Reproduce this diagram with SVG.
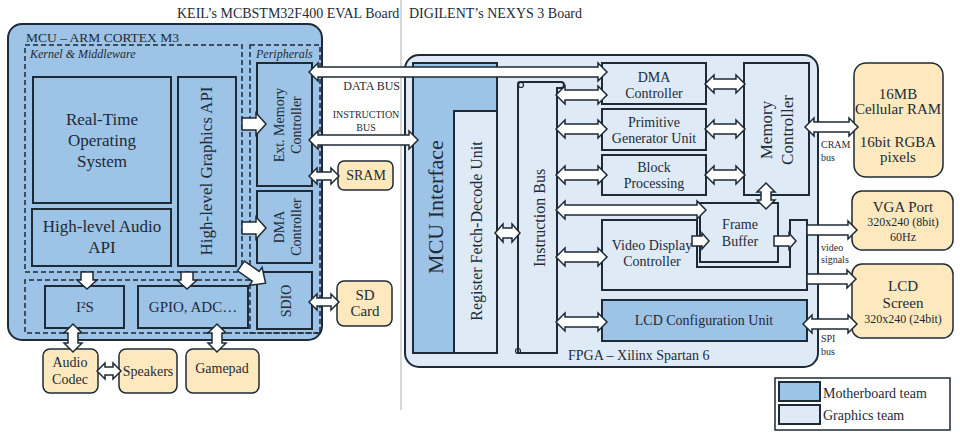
<svg xmlns="http://www.w3.org/2000/svg" width="960" height="435" viewBox="0 0 960 435" font-family="'Liberation Serif', 'DejaVu Serif', serif">
<style>
text{font-family:'Liberation Serif','DejaVu Serif',serif;fill:#1e2a36}
.c{text-anchor:middle}
.db{fill:#9dc3e6;stroke:#1e2a36;stroke-width:2}
.lb{fill:#deebf7;stroke:#1e2a36;stroke-width:2}
.yb{fill:#fde9bd;stroke:#1e2a36;stroke-width:1.5}
.dash{fill:none;stroke:#1e2a36;stroke-width:1.5;stroke-dasharray:5 3}
.ar{fill:#fff;stroke:#1e2a36;stroke-width:1.5}
.s10{font-size:10px}.s12{font-size:12px}.s14{font-size:14px}.s15{font-size:15px}.s16{font-size:16px}.s17{font-size:17px}
</style>
<rect width="960" height="435" fill="#fff"/>
<line x1="401" y1="0" x2="401" y2="410" stroke="#b0b0b0" stroke-width="1"/>
<text x="177" y="18" class="s14">KEIL’s MCBSTM32F400 EVAL Board</text>
<text x="409" y="18" class="s14">DIGILENT’s NEXYS 3 Board</text>

<g id="mcu">
<rect x="8" y="24" width="314" height="316" rx="14" class="db"/>
<text x="26" y="42" font-size="13.5">MCU – ARM CORTEX M3</text>
</g>
<g id="kernel">
<rect x="25" y="45" width="217" height="227" class="dash"/>
<text x="30" y="58" font-size="12" font-style="italic">Kernel &amp; Middleware</text>
</g>
<g id="peripherals">
<rect x="250" y="45" width="70" height="288" class="dash"/>
<text x="256" y="58" font-size="12" font-style="italic">Peripherals</text>
</g>
<g id="io-region"><path d="M250,280 H25 V333 H320" class="dash"/></g>
<g id="rtos">
<rect x="33" y="77" width="138" height="126" class="db"/>
<text x="102" y="125" class="c s17">Real-Time</text>
<text x="102" y="146" class="c s17">Operating</text>
<text x="102" y="167" class="c s17">System</text>
</g>
<g id="audio-api">
<rect x="32" y="209" width="139" height="57" class="db"/>
<text x="102" y="232" class="c s17">High-level Audio</text>
<text x="102" y="253" class="c s17">API</text>
</g>
<g id="graphics-api">
<rect x="178" y="77" width="58" height="189" class="db"/>
<text transform="translate(212,171) rotate(-90)" class="c s17">High-level Graphics API</text>
</g>
<g id="ext-mem">
<rect x="257" y="63" width="55" height="123" class="db"/>
<text transform="translate(284,125) rotate(-90)" class="c s14">Ext. Memory</text>
<text transform="translate(301,125) rotate(-90)" class="c s14">Controller</text>
</g>
<g id="dma-left">
<rect x="257" y="191" width="55" height="72" class="db"/>
<text transform="translate(284,227) rotate(-90)" class="c s14">DMA</text>
<text transform="translate(301,227) rotate(-90)" class="c s14">Controller</text>
</g>
<g id="sdio">
<rect x="257" y="272" width="55" height="57" class="db"/>
<text transform="translate(291,301) rotate(-90)" class="c s14">SDIO</text>
</g>
<g id="i2s">
<rect x="45" y="286" width="79" height="42" class="db"/>
<text x="85" y="312" class="c s15">I²S</text>
</g>
<g id="gpio">
<rect x="138" y="286" width="110" height="42" class="db"/>
<text x="193" y="312" class="c s15">GPIO, ADC…</text>
</g>
<g id="sram">
<rect x="338" y="161" width="55" height="29" rx="6" class="yb"/>
<text x="366" y="180" class="c s14">SRAM</text>
</g>
<g id="sdcard">
<rect x="337" y="281" width="55" height="45" rx="7" class="yb"/>
<text x="365" y="300" class="c s15">SD</text>
<text x="365" y="316" class="c s15">Card</text>
</g>
<g id="codec">
<rect x="43" y="349" width="55" height="44" rx="7" class="yb"/>
<text x="70" y="367" class="c s14">Audio</text>
<text x="70" y="384" class="c s14">Codec</text>
</g>
<g id="speakers">
<rect x="119" y="349" width="58" height="44" rx="7" class="yb"/>
<text x="148" y="376" class="c s14">Speakers</text>
</g>
<g id="gamepad">
<rect x="186" y="349" width="73" height="44" rx="7" class="yb"/>
<text x="222" y="373" class="c s14">Gamepad</text>
</g>

<g id="fpga">
<rect x="405" y="55" width="413" height="312" rx="14" class="lb"/>
<text x="568" y="360" class="s14">FPGA – Xilinx Spartan 6</text>
</g>
<g id="mcu-interface">
<rect x="413" y="63" width="84" height="290" class="db"/>
<text transform="translate(443,207) rotate(-90)" class="c" font-size="22">MCU Interface</text>
</g>
<g id="reg-fetch">
<rect x="454" y="111" width="43" height="242" class="lb"/>
<text transform="translate(482,231) rotate(-90)" class="c s16">Register Fetch-Decode Unit</text>
</g>
<g id="instruction-bus">
<path d="M518,353 V84 Q518,82 520,82 H561 Q564,82 564,85 Q564,88 561,88 H557 V353 Z" class="lb"/>
<circle cx="521" cy="85" r="2.5" fill="none" stroke="#1e2a36" stroke-width="1.2"/>
<circle cx="518" cy="351" r="2.5" fill="none" stroke="#1e2a36" stroke-width="1.2"/>
<text transform="translate(545,218) rotate(-90)" class="c s16">Instruction Bus</text>
</g>
<g id="dma-fpga">
<rect x="602" y="63" width="104" height="41" class="lb"/>
<text x="654" y="82" class="c s14">DMA</text>
<text x="654" y="98" class="c s14">Controller</text>
</g>
<g id="primitive">
<rect x="602" y="109" width="104" height="41" class="lb"/>
<text x="654" y="127" class="c s14">Primitive</text>
<text x="654" y="143" class="c s14">Generator Unit</text>
</g>
<g id="block">
<rect x="602" y="155" width="104" height="40" class="lb"/>
<text x="654" y="172" class="c s14">Block</text>
<text x="654" y="188" class="c s14">Processing</text>
</g>
<g id="memory-controller">
<rect x="744" y="63" width="65" height="132" class="lb"/>
<text transform="translate(772,130) rotate(-90)" class="c s17">Memory</text>
<text transform="translate(793,130) rotate(-90)" class="c s17">Controller</text>
</g>
<g id="frame-buffer">
<rect x="700" y="203" width="78" height="59" class="lb"/>
<text x="740" y="229" class="c s14">Frame</text>
<text x="740" y="246" class="c s14">Buffer</text>
</g>
<g id="video-display">
<path d="M602,220 H697 V267 H790 V220 H807 V290 H602 Z" class="lb"/>
<text x="652" y="250" class="c s14">Video Display</text>
<text x="652" y="266" class="c s14">Controller</text>
</g>
<g id="lcd-config">
<rect x="602" y="300" width="205" height="41" class="db"/>
<text x="704" y="325" class="c s14">LCD Configuration Unit</text>
</g>
<g id="cram">
<rect x="854" y="63" width="89" height="114" rx="12" class="yb"/>
<text x="898" y="99" class="c s15">16MB</text>
<text x="898" y="114" class="c s15">Cellular RAM</text>
<text x="898" y="147" class="c s15">16bit RGBA</text>
<text x="898" y="162" class="c s15">pixels</text>
</g>
<g id="vga">
<rect x="852" y="191" width="101" height="59" rx="10" class="yb"/>
<text x="903" y="212" class="c s15">VGA Port</text>
<text x="903" y="226" class="c s12">320x240 (8bit)</text>
<text x="903" y="241" class="c s12">60Hz</text>
</g>
<g id="lcd-screen">
<rect x="852" y="264" width="101" height="74" rx="10" class="yb"/>
<text x="903" y="291" class="c s15">LCD</text>
<text x="903" y="308" class="c s15">Screen</text>
<text x="903" y="323" class="c s12">320x240 (24bit)</text>
</g>
<g id="legend">
<rect x="775" y="378" width="175" height="52" fill="#fff" stroke="#1e2a36" stroke-width="1.5"/>
<rect x="779" y="382" width="41" height="19" class="db"/>
<rect x="779" y="405" width="41" height="19" class="lb"/>
<text x="823" y="398" class="s14">Motherboard team</text>
<text x="823" y="420" class="s14">Graphics team</text>
</g>

<g id="connectors">
<path class="ar" d="M309 72 L318 63 V67 H598 V63 L607 72 L598 81 V77 H318 V81 Z"/>
<path class="ar" d="M309 140 L318 131 V135 H409 V131 L418 140 L409 149 V145 H318 V149 Z"/>
<path class="ar" d="M309 176 L317 168 V172 H331 V168 L339 176 L331 184 V180 H317 V184 Z"/>
<path class="ar" d="M309 302 L317 294 V298 H331 V294 L339 302 L331 310 V306 H317 V310 Z"/>
<path class="ar" d="M242 118 H256 V113 L266 124 L256 135 V130 H242 Z"/>
<path class="ar" d="M242 222 H256 V217 L266 228 L256 239 V234 H242 Z"/>
<path class="ar" transform="translate(241,266) rotate(35)" d="M0 -6 H18 V-11 L30 0 L18 11 V6 H0 Z"/>
<path class="ar" d="M81 272 V280 H77 L87 289 L97 280 H93 V272 Z"/>
<path class="ar" d="M181 272 V280 H177 L187 289 L197 280 H193 V272 Z"/>
<path class="ar" d="M73 324 L82 333 H78 V343 H82 L73 352 L64 343 H68 V333 H64 Z"/>
<path class="ar" d="M217 324 L226 333 H222 V343 H226 L217 352 L208 343 H212 V333 H208 Z"/>
<path class="ar" d="M97 371 L105 363 V367 H113 V363 L121 371 L113 379 V375 H105 V379 Z"/>
<path class="ar" d="M495 233 L503 224 V228 H512 V224 L520 233 L512 242 V238 H503 V242 Z"/>
<path class="ar" d="M556 95 L565 86 V90 H598 V86 L607 95 L598 104 V100 H565 V104 Z"/>
<path class="ar" d="M556 129 L565 120 V124 H598 V120 L607 129 L598 138 V134 H565 V138 Z"/>
<path class="ar" d="M556 175 L565 166 V170 H598 V166 L607 175 L598 184 V180 H565 V184 Z"/>
<path class="ar" d="M556 210 L565 201 V205 H697 V201 L706 210 L697 219 V215 H565 V219 Z"/>
<path class="ar" d="M556 257 L565 248 V252 H598 V248 L607 257 L598 266 V262 H565 V266 Z"/>
<path class="ar" d="M556 322 L565 313 V317 H598 V313 L607 322 L598 331 V327 H565 V331 Z"/>
<path class="ar" d="M705 84 L714 75 V79 H736 V75 L745 84 L736 93 V89 H714 V93 Z"/>
<path class="ar" d="M705 129 L714 120 V124 H736 V120 L745 129 L736 138 V134 H714 V138 Z"/>
<path class="ar" d="M705 175 L714 166 V170 H736 V166 L745 175 L736 184 V180 H714 V184 Z"/>
<path class="ar" d="M766 183 L775 192 H771 V200 H775 L766 209 L757 200 H761 V192 H757 Z"/>
<path class="ar" d="M692 236 H702 V233 L709 241 L702 249 V246 H692 Z"/>
<path class="ar" d="M774 236 H789 V233 L796 241 L789 249 V246 H774 Z"/>
<path class="ar" d="M807 225 H848 V221 L857 230 L848 239 V235 H807 Z"/>
<path class="ar" d="M807 274 H847 V270 L856 279 L847 288 V284 H807 Z"/>
<path class="ar" d="M803 324 L812 315 V319 H848 V315 L857 324 L848 333 V329 H812 V333 Z"/>
<path class="ar" d="M805 127 L814 118 V122 H849 V118 L858 127 L849 136 V132 H814 V136 Z"/>
</g>
<g id="bus-labels">
<text x="400" y="90" class="s12" text-anchor="end">DATA BUS</text>
<text x="366" y="118" class="c s10">INSTRUCTION</text>
<text x="366" y="131" class="c s10">BUS</text>
<text x="821" y="148" class="s10">CRAM</text>
<text x="821" y="161" class="s10">bus</text>
<text x="821" y="251" class="s10">video</text>
<text x="821" y="263" class="s10">signals</text>
<text x="821" y="342" class="s10">SPI</text>
<text x="821" y="355" class="s10">bus</text>
</g>
</svg>
